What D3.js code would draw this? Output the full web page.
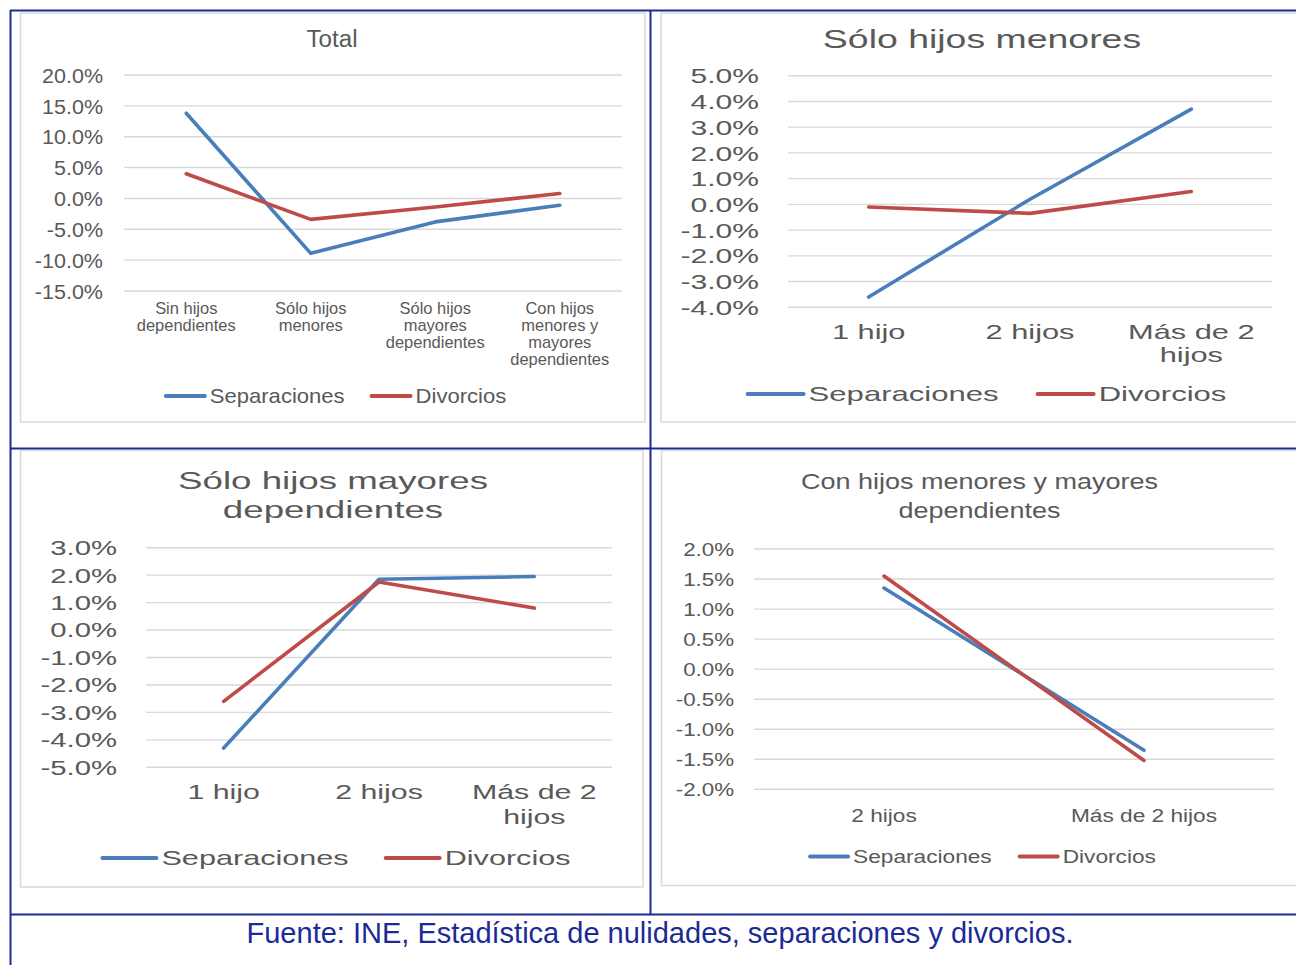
<!DOCTYPE html>
<html>
<head>
<meta charset="utf-8">
<script src="https://cdn.jsdelivr.net/npm/d3@7"></script>
<style>
body { margin: 0; background: #fff; }
svg { display: block; }
svg text { font-family: "Liberation Sans", Arial, sans-serif; }
</style>
</head>
<body>
<script>
// series shared by all four charts
const seriesNames = ["Separaciones", "Divorcios"];

// Total
const totalLabels = [["Sin hijos", "dependientes"], ["Sólo hijos", "menores"], ["Sólo hijos", "mayores", "dependientes"], ["Con hijos", "menores y", "mayores", "dependientes"]];
const totalSep = [13.8, -8.9, -3.8, -1.1];
const totalDiv = [4.0, -3.4, -1.4, 0.8];
const totalTicks = [-15, -10, -5, 0, 5, 10, 15, 20];

// Sólo hijos menores
const menoresLabels = [["1 hijo"], ["2 hijos"], ["Más de 2", "hijos"]];
const menoresSep = [-3.6, 0.2, 3.7];
const menoresDiv = [-0.1, -0.35, 0.5];
const menoresTicks = [-4, -3, -2, -1, 0, 1, 2, 3, 4, 5];

// Sólo hijos mayores dependientes
const mayoresLabels = [["1 hijo"], ["2 hijos"], ["Más de 2", "hijos"]];
const mayoresSep = [-4.3, 1.85, 1.95];
const mayoresDiv = [-2.6, 1.75, 0.8];
const mayoresTicks = [-5, -4, -3, -2, -1, 0, 1, 2, 3];

// Con hijos menores y mayores dependientes
const ambosLabels = [["2 hijos"], ["Más de 2 hijos"]];
const ambosSep = [1.35, -1.35];
const ambosDiv = [1.55, -1.52];
const ambosTicks = [-2, -1.5, -1, -0.5, 0, 0.5, 1, 1.5, 2];

const fuente = "Fuente: INE, Estadística de nulidades, separaciones y divorcios.";

const W = 1296, H = 965;
const TEXT = "#595959";
const GRID = "#d9d9d9";
const NAVY = "#1c2a96";
const COLORS = ["#4a7ebb", "#be4b48"];

const loc = d3.formatLocale({ decimal: ".", thousands: ",", grouping: [3], currency: ["", ""], minus: "-" });
const pct = d3 => loc.format(".1f")(d3) + "%";

const svg = d3.select("body").append("svg")
	.attr("width", W)
	.attr("height", H);

// layout of every chart (the source picture is stretched differently in each cell)
const panels = [
	{ title: ["Total"], labels: totalLabels, data: [totalSep, totalDiv], ticks: totalTicks,
	  box: [20.5, 13, 645, 422], left: 124, right: 622, top: 75, bottom: 291, labelRight: 103,
	  sx: 1.05, titleX: 332, titleY: [39], titleLH: 0, titleFont: 23, yFont: 20.5,
	  catY: 308, catLH: 17, catFont: 15.7, legY: 396, legCX: 335, legLine: 43, legGap: 25, legFont: 21 },
	{ title: ["Sólo hijos menores"], labels: menoresLabels, data: [menoresSep, menoresDiv], ticks: menoresTicks,
	  box: [661, 13, 1300, 422], left: 788, right: 1272, top: 75.7, bottom: 307.3, labelRight: 759,
	  sx: 1.48, titleX: 982, titleY: [39], titleFont: 25.3, yFont: 20.3,
	  catY: 332, catLH: 23, catFont: 20.8, legY: 394, legCX: 986, legLine: 60, legGap: 37, legFont: 21 },
	{ title: ["Sólo hijos mayores", "dependientes"], labels: mayoresLabels, data: [mayoresSep, mayoresDiv], ticks: mayoresTicks,
	  box: [20.5, 450.5, 643, 887], left: 146, right: 612, top: 547.7, bottom: 767.3, labelRight: 117,
	  sx: 1.48, titleX: 333, titleY: [480, 509], titleFont: 24.8, yFont: 19.8,
	  catY: 792, catLH: 25, catFont: 20.5, legY: 858, legCX: 335.5, legLine: 58, legGap: 35, legFont: 20.7 },
	{ title: ["Con hijos menores y mayores", "dependientes"], labels: ambosLabels, data: [ambosSep, ambosDiv], ticks: ambosTicks,
	  box: [661.5, 450.5, 1300, 885.5], left: 754, right: 1274, top: 549, bottom: 789.3, labelRight: 734,
	  sx: 1.2, titleX: 979.5, titleY: [481.5, 510], titleFont: 22.5, yFont: 18.6,
	  catY: 815, catLH: 24, catFont: 18.9, legY: 856.5, legCX: 982, legLine: 42, legGap: 26, legFont: 18.9 }
];

// text placed at (x, y), centred vertically and stretched horizontally by sx
function stretchText(g, x, y, str, size, sx, anchor, fill) {
	return g.append("text")
		.attr("transform", `translate(${x},${y}) scale(${sx},1)`)
		.attr("text-anchor", anchor)
		.attr("dy", "0.35em")
		.attr("fill", fill || TEXT)
		.style("font-size", size + "px")
		.text(str);
}

function drawPanel(p) {
	const g = svg.append("g");

	g.append("rect")
		.attr("x", p.box[0]).attr("y", p.box[1])
		.attr("width", p.box[2] - p.box[0]).attr("height", p.box[3] - p.box[1])
		.attr("fill", "#fff")
		.attr("stroke", GRID)
		.attr("stroke-width", 1.5);

	const x = d3.scalePoint()
		.domain(d3.range(p.labels.length))
		.range([p.left, p.right])
		.padding(0.5);

	const y = d3.scaleLinear()
		.domain([d3.min(p.ticks), d3.max(p.ticks)])
		.range([p.bottom, p.top]);

	// gridlines
	g.append("g").selectAll("line")
		.data(p.ticks)
		.join("line")
		.attr("x1", p.left).attr("x2", p.right)
		.attr("y1", d => y(d)).attr("y2", d => y(d))
		.attr("stroke", GRID)
		.attr("stroke-width", 1.4);

	// y axis labels
	const pad = p.left - p.labelRight;
	const ax = g.append("g")
		.attr("transform", `translate(${p.left},0)`)
		.call(d3.axisLeft(y).tickValues(p.ticks).tickSize(0).tickPadding(pad).tickFormat(pct));
	ax.select(".domain").remove();
	ax.selectAll("text")
		.attr("x", -pad / p.sx)
		.attr("transform", `scale(${p.sx},1)`)
		.attr("dy", "0.35em")
		.attr("fill", TEXT)
		.style("font-size", p.yFont + "px");

	// category labels
	p.labels.forEach((lines, i) => {
		lines.forEach((ln, j) => {
			stretchText(g, x(i), p.catY + j * p.catLH, ln, p.catFont, p.sx, "middle");
		});
	});

	// title
	p.title.forEach((ln, j) => {
		stretchText(g, p.titleX, p.titleY[j], ln, p.titleFont, p.sx, "middle");
	});

	// series
	const line = d3.line()
		.x((d, i) => x(i))
		.y(d => y(d));

	p.data.forEach((vals, k) => {
		g.append("path")
			.datum(vals)
			.attr("d", line)
			.attr("fill", "none")
			.attr("stroke", COLORS[k])
			.attr("stroke-width", 3.6)
			.attr("stroke-linecap", "round")
			.attr("stroke-linejoin", "round");
	});

	// legend
	const lg = g.append("g");
	const items = seriesNames.map(name => {
		const t = stretchText(lg, 0, p.legY, name, p.legFont, p.sx, "start");
		return { t: t, w: t.node().getComputedTextLength() * p.sx };
	});
	const total = d3.sum(items, it => p.legLine + 3 + it.w) + p.legGap;
	let cx = p.legCX - total / 2;
	items.forEach((it, k) => {
		lg.append("line")
			.attr("x1", cx + 2).attr("x2", cx + p.legLine - 2)
			.attr("y1", p.legY).attr("y2", p.legY)
			.attr("stroke", COLORS[k])
			.attr("stroke-width", 4)
			.attr("stroke-linecap", "round");
		it.t.attr("transform", `translate(${cx + p.legLine + 3},${p.legY}) scale(${p.sx},1)`);
		cx += p.legLine + 3 + it.w + p.legGap;
	});
}

panels.forEach(drawPanel);

// table rules round the four charts
const rules = [
	[10, 10.5, W, 10.5],
	[10.5, 10, 10.5, H],
	[650.5, 10, 650.5, 914.5],
	[10, 448.5, W, 448.5],
	[10, 914.5, W, 914.5]
];
svg.append("g").selectAll("line")
	.data(rules)
	.join("line")
	.attr("x1", d => d[0]).attr("y1", d => d[1])
	.attr("x2", d => d[2]).attr("y2", d => d[3])
	.attr("stroke", NAVY)
	.attr("stroke-width", 2);

stretchText(svg, 660, 933, fuente, 29, 1, "middle", NAVY);
</script>
</body>
</html>
